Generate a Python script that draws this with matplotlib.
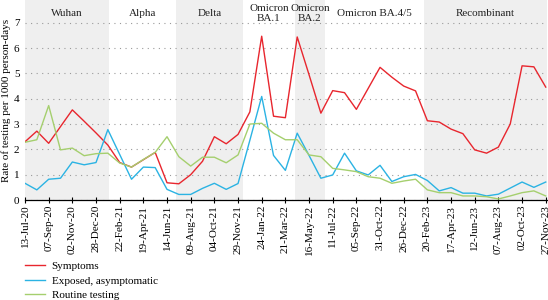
import matplotlib
matplotlib.use("Agg")
import matplotlib.pyplot as plt
import matplotlib.dates as mdates
import matplotlib.transforms as mtransforms
import pandas as pd

# 4-weekly observation dates
dates = pd.date_range("2020-07-13", periods=45, freq="28D")

symptoms = [2.30, 2.72, 2.24, 2.90, 3.56, 3.11, 2.65, 2.17, 1.48, 1.30,
            1.59, 1.88, 0.68, 0.64, 1.00, 1.53, 2.50, 2.22, 2.59, 3.48,
            6.47, 3.31, 3.25, 6.44, 4.95, 3.43, 4.32, 4.24, 3.58, 4.41,
            5.24, 4.85, 4.50, 4.31, 3.13, 3.08, 2.80, 2.62, 1.98, 1.85,
            2.09, 3.00, 5.30, 5.26, 4.46]
exposed = [0.66, 0.40, 0.82, 0.86, 1.50, 1.39, 1.48, 2.78, 1.80, 0.82,
           1.30, 1.28, 0.42, 0.22, 0.22, 0.46, 0.66, 0.42, 0.65, 2.36,
           4.09, 1.76, 1.17, 2.64, 1.76, 0.86, 0.99, 1.85, 1.15, 0.99,
           1.37, 0.73, 0.92, 1.01, 0.77, 0.36, 0.49, 0.27, 0.27, 0.16,
           0.23, 0.47, 0.71, 0.50, 0.71]
routine = [2.28, 2.38, 3.73, 1.98, 2.05, 1.75, 1.83, 1.85, 1.46, 1.30,
           1.60, 1.88, 2.50, 1.71, 1.34, 1.69, 1.69, 1.47, 1.78, 3.00,
           3.03, 2.64, 2.38, 2.38, 1.78, 1.71, 1.25, 1.19, 1.12, 0.92,
           0.86, 0.66, 0.75, 0.82, 0.40, 0.29, 0.29, 0.16, 0.16, 0.13,
           0.04, 0.16, 0.29, 0.36, 0.16]

# variant periods: name, start, end, shaded
variants = ["Wuhan", "Alpha", "Delta", "Omicron\nBA.1", "Omicron\nBA.2",
            "Omicron BA.4/5", "Recombinant"]
variant_edges = ["2020-07-13", "2021-01-28", "2021-07-05", "2021-12-11",
                 "2022-04-12", "2022-06-23", "2023-02-11", "2023-11-30"]
variant_shaded = [True, False, True, False, True, False, True]

RED = "#e8262e"
BLUE = "#2bb3e3"
GREEN = "#a5cf6e"
SERIF = ["Liberation Serif", "DejaVu Serif"]
FS = 8

plt.rcParams["font.family"] = SERIF

fig = plt.figure(figsize=(5.48, 3.0), dpi=100)
ax = fig.add_axes([25 / 548, 100 / 300, 522 / 548, 200 / 300])

edges = pd.to_datetime(variant_edges)
trans = mtransforms.blended_transform_factory(ax.transData, ax.transAxes)
for name, a, b, shade in zip(variants, edges[:-1], edges[1:], variant_shaded):
    if shade:
        ax.axvspan(a, b, color="#efefef", lw=0, zorder=0)
    mid = a + (b - a) / 2
    ax.text(mid, 0.932, name, transform=trans, ha="center", va="center",
            fontsize=FS, linespacing=1.05, color="#222222")

ax.plot(dates, symptoms, color=RED, lw=1.0, label="Symptoms", zorder=3)
ax.plot(dates, exposed, color=BLUE, lw=1.0, label="Exposed, asymptomatic", zorder=3)
ax.plot(dates, routine, color=GREEN, lw=1.0, label="Routine testing", zorder=3)

ax.set_xlim(edges[0], edges[-1])
ax.set_ylim(0, 7.9)
ax.set_yticks(range(0, 8))
ax.yaxis.grid(True, color="#9a9a9a", ls=(0, (1, 4)), lw=0.8)
ax.set_axisbelow(True)

ax.set_xticks(dates[::2])
ax.xaxis.set_major_formatter(mdates.DateFormatter("%d-%b-%y"))
ax.tick_params(axis="x", direction="inout", length=4, width=0.8,
               labelrotation=90, labelsize=FS, pad=1.5)
ax.tick_params(axis="y", length=0, labelsize=FS, pad=4)

for s in ["top", "right", "left"]:
    ax.spines[s].set_visible(False)
ax.spines["bottom"].set_linewidth(0.9)

ax.set_ylabel("Rate of testing per 1000 person-days", fontsize=FS, labelpad=2)

fig.legend(loc="upper left", bbox_to_anchor=(25 / 548, 1 - 261 / 300),
           frameon=False, fontsize=FS, handlelength=1.8, handletextpad=0.6,
           labelspacing=0.45, borderaxespad=0, borderpad=0)

fig.savefig("out.png", dpi=100)
